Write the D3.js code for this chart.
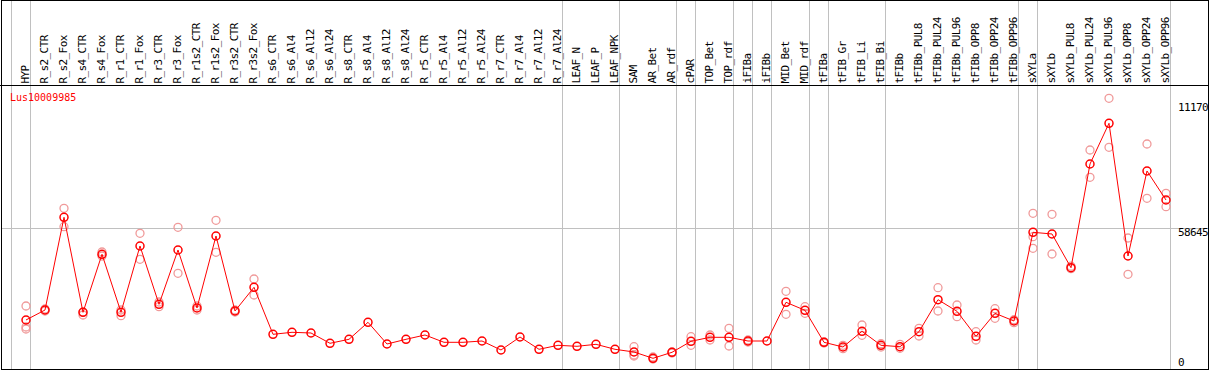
<!DOCTYPE html>
<html lang="en">
<head>
<meta charset="utf-8">
<title>Lus10009985</title>
<script src="https://cdnjs.cloudflare.com/ajax/libs/d3/7.8.5/d3.min.js"></script>
<style>
  body { margin: 0; background: #fff; }
  text { font-family: "DejaVu Sans Mono", monospace; font-size: 10px; }
  .lab, .tick { font-size: 11px; letter-spacing: -0.6px; }
</style>
</head>
<body>
<svg id="chart" width="1209" height="370"></svg>
<script>
// sample names, one column each
var samples = ["HYP","R_s2_CTR","R_s2_Fox","R_s4_CTR","R_s4_Fox","R_r1_CTR","R_r1_Fox","R_r3_CTR","R_r3_Fox",
  "R_r1s2_CTR","R_r1s2_Fox","R_r3s2_CTR","R_r3s2_Fox","R_s6_CTR","R_s6_Al4","R_s6_Al12","R_s6_Al24",
  "R_s8_CTR","R_s8_Al4","R_s8_Al12","R_s8_Al24","R_r5_CTR","R_r5_Al4","R_r5_Al12","R_r5_Al24",
  "R_r7_CTR","R_r7_Al4","R_r7_Al12","R_r7_Al24","LEAF_N","LEAF_P","LEAF_NPK","SAM","AR_Bet","AR_rdf",
  "cPAR","TOP_Bet","TOP_rdf","iFIBa","iFIBb","MID_Bet","MID_rdf","tFIBa","tFIB_Gr","tFIB_Li","tFIB_Bi",
  "tFIBb","tFIBb_PUL8","tFIBb_PUL24","tFIBb_PUL96","tFIBb_OPP8","tFIBb_OPP24","tFIBb_OPP96",
  "sXYLa","sXYLb","sXYLb_PUL8","sXYLb_PUL24","sXYLb_PUL96","sXYLb_OPP8","sXYLb_OPP24","sXYLb_OPP96"];

// mean expression per sample
var means = [18450,22843,63566,21833,47313,21833,50959,25347,49201,23722,55351,22404,32815,
  12168,13047,12740,8215,9972,17440,7907,9972,11861,8654,8654,9225,5272,10982,5579,7336,
  6897,7776,5579,4393,1625,4261,9093,10851,10851,9225,9225,26226,22711,8654,6589,13486,7336,
  6721,13311,27368,22272,11290,21394,18011,56976,56229,41425,86979,104860,46565,83905,71165];

// replicate values per sample (empty = single sample)
var replicates = [[24600,15375,14497],[23282,22404],[67519,59437],[21965,20647],[48322,46565],
  [22843,20340],[56537,45115],[26358,24293],[59173,38966],[24600,22843],[62248,48190],[22843,21965],
  [36461,29432],[],[],[],[],[],[],[],[],[],[],[],[],[],[],[],[],[],[],[],
  [6721,3075,2636],[2197,1318],[4393,3954],[11114,7336],[11861,9664],[14804,7029],[9664,8786],[],
  [31058,20954],[24293,21394],[8874,8347],[7336,5843],[16254,11729],[8039,6589],[7776,6018],
  [14804,11422],[32640,22404],[25040,19900],[13311,9664],[23414,19197],[18582,17264],
  [65323,55043,49947],[64883,47443],[42084,40986],[93130,81137],[115842,94317],[54472,38526],
  [95765,71912],[74109,68222]];

// last sample of each group (group separators); "" = line before the first column
var groupEnds = ["","HYP","R_r7_Al24","LEAF_NPK","AR_rdf","cPAR","TOP_rdf","iFIBa","iFIBb",
  "MID_rdf","tFIBa","tFIB_Bi","tFIBb_OPP96","sXYLa","sXYLb_OPP96"];

var yTicks = [0, 58645, 111709];
var geneName = "Lus10009985";

var svg = d3.select("#chart");
var W = 1209, H = 370, headerY = 85.5;

var x = d3.scalePoint().domain(samples).range([26, 1166]);
var step = x.step();
var y = d3.scaleLinear().domain([0, 111709]).range([362, 107.7]);

svg.append("defs").append("clipPath").attr("id", "frame")
  .append("rect").attr("x", 1.5).attr("y", 0.5).attr("width", 1207).attr("height", 369);

var g = svg.append("g").attr("clip-path", "url(#frame)");

// group separator lines
function sepX(d) { return Math.round(d === "" ? x(samples[0]) - step : x(d)) + 4.5; }
g.selectAll(".sep").data(groupEnds).enter().append("line")
  .attr("x1", sepX).attr("x2", sepX)
  .attr("y1", 0).attr("y2", H)
  .attr("stroke", "#c0c0c0").attr("stroke-width", 1);

// mid gridline
g.append("line")
  .attr("x1", 0).attr("x2", W)
  .attr("y1", y(yTicks[1])).attr("y2", y(yTicks[1]))
  .attr("stroke", "#c0c0c0").attr("stroke-width", 1);

// sample labels
g.selectAll(".lab").data(samples).enter().append("text")
  .attr("class", "lab")
  .attr("transform", function(d){ return "translate(" + (x(d) + 3) + ",83.5) rotate(-90)"; })
  .attr("fill", "#000")
  .text(function(d){ return d; });

// gene name
g.append("text").attr("x", 10).attr("y", 100.5).attr("fill", "#ff0000").text(geneName);

// right value labels (fixed 5 character field, as in the original)
var tickOffset = [3.7, 7.2, 3];
g.selectAll(".tick").data(yTicks).enter().append("text")
  .attr("class", "tick")
  .attr("x", 1178)
  .attr("y", function(d, i){ return y(d) + tickOffset[i]; })
  .attr("fill", "#000")
  .text(function(d){ return d3.format("d")(d).slice(0, 5); });

// replicate points
var reps = [];
replicates.forEach(function(r, i){ r.forEach(function(v){ reps.push({s: samples[i], v: v}); }); });
g.selectAll(".rep").data(reps).enter().append("circle")
  .attr("cx", function(d){ return x(d.s); })
  .attr("cy", function(d){ return y(d.v); })
  .attr("r", 4)
  .attr("fill", "none")
  .attr("stroke", "#f09a9a")
  .attr("stroke-width", 1.3);

// mean line
var line = d3.line()
  .x(function(d, i){ return x(samples[i]); })
  .y(function(d){ return y(d); });
g.append("path").datum(means)
  .attr("d", line)
  .attr("fill", "none")
  .attr("stroke", "#ff0000")
  .attr("stroke-width", 1);

g.selectAll(".mean").data(means).enter().append("circle")
  .attr("cx", function(d, i){ return x(samples[i]); })
  .attr("cy", function(d){ return y(d); })
  .attr("r", 4)
  .attr("fill", "none")
  .attr("stroke", "#ff0000")
  .attr("stroke-width", 1.5);

// header line and frame
svg.append("line").attr("x1", 0).attr("x2", W).attr("y1", headerY).attr("y2", headerY)
  .attr("stroke", "#000").attr("stroke-width", 1);
svg.append("rect").attr("x", 1.5).attr("y", 0.5).attr("width", 1207).attr("height", 369)
  .attr("fill", "none").attr("stroke", "#000").attr("stroke-width", 1);
</script>
</body>
</html>
